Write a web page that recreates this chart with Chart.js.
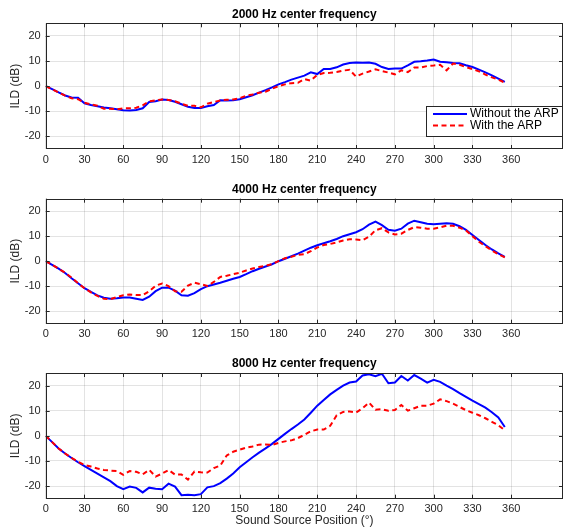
<!DOCTYPE html>
<html><head><meta charset="utf-8">
<script src="https://cdn.jsdelivr.net/npm/chart.js@4/dist/chart.umd.min.js"></script>
<style>
body{margin:0;background:#fff;width:564px;height:528px;position:relative;overflow:hidden}
canvas{position:absolute;left:0}
</style></head><body>
<canvas id="c1" width="564" height="176" style="top:0px"></canvas>
<canvas id="c2" width="564" height="176" style="top:176px"></canvas>
<canvas id="c3" width="564" height="176" style="top:352px"></canvas>
<script>
const angles = [0,5,10,15,20,25,30,35,40,45,50,55,60,65,70,75,80,85,90,95,100,105,110,115,120,125,130,135,140,145,150,155,160,165,170,175,180,185,190,195,200,205,210,215,220,225,230,235,240,245,250,255,260,265,270,275,280,285,290,295,300,305,310,315,320,325,330,335,340,345,350,355];
const xTicks = [0,30,60,90,120,150,180,210,240,270,300,330,360];
const yTicks = [-20,-10,0,10,20];
const seriesNames = ["Without the ARP","With the ARP"];
const titles = ["2000 Hz center frequency","4000 Hz center frequency","8000 Hz center frequency"];

const without2000 = [0,-1.2,-2.5,-3.7,-4.5,-4.6,-6.8,-7.5,-8,-8.5,-8.8,-9.2,-9.6,-9.7,-9.5,-8.8,-6.3,-6.0,-5.3,-5.5,-6.2,-7.2,-8.2,-8.7,-8.7,-8,-7.5,-5.6,-5.7,-5.6,-5.2,-4.4,-3.6,-2.6,-1.6,-0.5,0.7,1.6,2.6,3.4,4.2,5.5,4.8,6.8,6.8,7.5,8.6,9.2,9.4,9.3,9.4,8.9,7.6,6.8,7.0,7.0,8.3,9.7,9.9,10.2,10.6,9.7,9.5,9.2,9.1,8.3,7.6,6.6,5.5,4.3,3.0,1.7];
const with2000 = [0,-1.2,-2.5,-3.8,-4.8,-5.2,-6.6,-7.3,-7.8,-9.0,-9.0,-9.2,-8.8,-8.8,-8.6,-7.6,-6.0,-5.7,-5.3,-5.5,-6.0,-7.0,-7.8,-7.8,-8.4,-7.0,-6.3,-5.7,-5.4,-5.3,-4.8,-3.8,-3.3,-2.6,-2.2,-1.0,0.0,0.7,1.2,1.3,2.8,2.2,4.5,5.2,5.3,5.6,6.2,6.5,3.8,5.0,5.8,6.7,6.0,5.4,4.7,6.3,5.6,7.4,7.4,8.0,8.2,8.5,6.3,9.0,8.5,7.6,6.8,5.9,4.6,3.5,2.6,1.4];
const without4000 = [0,-1.5,-3,-4.7,-6.8,-8.8,-10.8,-12.3,-13.7,-14.6,-15.0,-14.8,-14.5,-14.5,-15.0,-15.5,-14.2,-12.0,-10.6,-10.6,-11.8,-13.6,-13.8,-12.8,-11.2,-10.0,-9.3,-8.6,-7.8,-7.0,-6.3,-5.2,-4.0,-3.0,-2.1,-1.2,0,1.0,2.0,3.0,4.2,5.4,6.4,7.2,8.0,8.9,10.0,10.8,11.6,12.8,14.6,15.8,14.4,12.6,12.2,13.0,15.0,16.2,15.6,15.0,14.8,15.0,15.2,15.0,14.0,12.5,10.5,8.5,6.5,4.7,3.1,1.7];
const with4000 = [0,-1.4,-3,-4.6,-6.6,-8.8,-10.8,-12.5,-13.9,-15.0,-15.2,-14.4,-13.6,-13.3,-13.5,-13.6,-12.0,-9.8,-8.9,-10.0,-12.0,-12.2,-9.8,-8.6,-9.2,-9.9,-8.3,-6.3,-5.8,-5.2,-4.6,-3.7,-2.9,-2.3,-1.8,-1.2,0.0,1.2,1.8,2.5,2.8,4.0,5.5,6.5,6.9,7.5,8.3,8.8,8.7,8.4,9.8,12.4,13.2,11.5,10.7,11.0,12.5,13.6,13.4,13.0,13.0,13.5,14.2,14.2,13.4,12.3,10.0,7.8,6.0,4.3,2.8,1.5];
const without8000 = [0,-2.5,-5,-7,-8.8,-10.5,-12,-13.5,-15,-16.5,-18,-20,-21.2,-20.2,-20.7,-22.5,-20.6,-21.0,-21.2,-19.0,-20.2,-23.6,-23.4,-23.6,-23.2,-20.5,-20.0,-18.8,-17.0,-15.0,-12.5,-10.5,-8.5,-6.7,-5.0,-3.2,-1.2,0.8,2.7,4.5,6.5,9.2,12.0,14.3,16.5,18.3,20.0,21.2,21.6,24.0,24.5,23.7,24.7,20.9,21.2,23.8,22.0,24.2,22.8,21.2,22.3,21.5,20.0,18.6,17.0,15.5,14.0,12.6,11.2,9.4,7.3,3.5];
const with8000 = [0,-2.5,-5,-7,-8.8,-10.3,-11.6,-12.2,-13.0,-13.6,-13.8,-14.0,-15.5,-14.0,-14.3,-15.3,-13.5,-16.2,-15.0,-13.6,-15.4,-15.4,-17.4,-14.2,-14.5,-14.6,-12.8,-11.8,-7.8,-6.3,-5.5,-4.7,-4.2,-3.5,-3.4,-3.6,-2.8,-2.2,-1.8,-0.9,0.4,1.8,2.5,2.5,4.0,8.2,9.5,9.7,9.3,11.0,13.2,10.4,10.6,10.0,10.3,12.3,10.0,11.0,12.0,12.0,12.8,14.5,13.8,12.8,11.5,10.2,9.2,8.2,7.0,5.6,4.2,2.2];

const FONT = "'Liberation Sans', Arial, Helvetica, sans-serif";
const AX = '#262626';

const frame = {
  id: 'frame',
  afterDraw(chart, args, o) {
    const {ctx, chartArea: a, scales} = chart;
    ctx.save();
    // inward tick marks
    ctx.strokeStyle = AX; ctx.lineWidth = 1;
    ctx.beginPath();
    xTicks.forEach(v => {
      const x = Math.round(scales.x.getPixelForValue(v)) + 0.5;
      ctx.moveTo(x, a.bottom); ctx.lineTo(x, a.bottom - 4);
      ctx.moveTo(x, a.top); ctx.lineTo(x, a.top + 4);
    });
    yTicks.forEach(v => {
      const y = Math.round(scales.y.getPixelForValue(v)) + 0.5;
      ctx.moveTo(a.left, y); ctx.lineTo(a.left + 4, y);
      ctx.moveTo(a.right, y); ctx.lineTo(a.right - 4, y);
    });
    ctx.stroke();
    ctx.strokeRect(Math.round(a.left) + 0.5, Math.round(a.top) + 0.5, Math.round(a.right - a.left) - 1, Math.round(a.bottom - a.top) - 1);
    // title
    ctx.fillStyle = '#000';
    ctx.font = 'bold 12px ' + FONT;
    ctx.textAlign = 'center'; ctx.textBaseline = 'middle';
    ctx.fillText(o.text, (a.left + a.right) / 2, a.top - 9);
    // legend
    if (o.legend) {
      const L = 426.5, R = Math.round(a.right) - 0.5, T = 106.5, B = 136.5;
      ctx.fillStyle = '#fff';
      ctx.fillRect(L, T, R - L, B - T);
      ctx.strokeStyle = AX; ctx.lineWidth = 1;
      ctx.strokeRect(L, T, R - L, B - T);
      const ds = chart.data.datasets;
      [114, 125.5].forEach((y, i) => {
        ctx.strokeStyle = ds[i].borderColor; ctx.lineWidth = 2;
        ctx.setLineDash(ds[i].borderDash || []);
        ctx.beginPath(); ctx.moveTo(433, y); ctx.lineTo(467, y); ctx.stroke();
        ctx.setLineDash([]);
        ctx.fillStyle = '#000'; ctx.font = '12px ' + FONT;
        ctx.textAlign = 'left'; ctx.textBaseline = 'middle';
        ctx.fillText(ds[i].label, 470, y);
      });
    }
    ctx.restore();
  }
};

function makeChart(id, title, blue, red, padTop, xHeight, showXTitle, showLegend) {
  return new Chart(document.getElementById(id), {
    type: 'line',
    data: {
      datasets: [
        {label: seriesNames[0], data: angles.map((a, i) => ({x: a, y: blue[i]})), borderColor: '#0000ff', borderWidth: 2, pointRadius: 0, tension: 0, order: 1},
        {label: seriesNames[1], data: angles.map((a, i) => ({x: a, y: red[i]})), borderColor: '#ff0000', borderWidth: 2, borderDash: [5, 3.5], pointRadius: 0, tension: 0, order: 0}
      ]
    },
    options: {
      responsive: false, animation: false, devicePixelRatio: 1,
      layout: {padding: {top: padTop, right: 1, left: 0, bottom: 0}},
      plugins: {legend: {display: false}, tooltip: {enabled: false}, frame: {text: title, legend: showLegend}},
      scales: {
        x: {
          type: 'linear', min: 0, max: 400,
          afterBuildTicks: s => { s.ticks = xTicks.map(v => ({value: v})); },
          afterFit: s => { s.height = xHeight; },
          grid: {color: 'rgba(38,38,38,0.13)', drawTicks: false},
          border: {display: false},
          ticks: {color: AX, font: {family: FONT, size: 11}, padding: 4, maxRotation: 0, autoSkip: false},
          title: {display: showXTitle, text: 'Sound Source Position (°)', color: AX, font: {family: FONT, size: 12}, padding: {top: 0, bottom: 0}}
        },
        y: {
          min: -25, max: 25,
          afterBuildTicks: s => { s.ticks = yTicks.map(v => ({value: v})); },
          afterFit: s => { s.width = 45.7; },
          grid: {color: 'rgba(38,38,38,0.13)', drawTicks: false},
          border: {display: false},
          ticks: {color: AX, font: {family: FONT, size: 11}, padding: 5},
          title: {display: true, text: 'ILD (dB)', color: AX, font: {family: FONT, size: 12}, padding: {top: 8, bottom: 0}}
        }
      }
    },
    plugins: [frame]
  });
}

makeChart('c1', titles[0], without2000, with2000, 23.3, 27, false, true);
makeChart('c2', titles[1], without4000, with4000, 22.7, 28.3, false, false);
makeChart('c3', titles[2], without8000, with8000, 21, 29.3, true, false);
</script>
</body></html>
